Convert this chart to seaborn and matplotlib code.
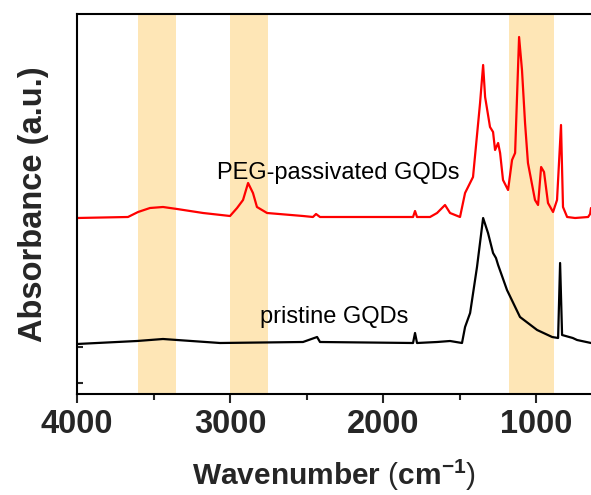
import matplotlib
matplotlib.use("Agg")
import matplotlib.pyplot as plt
import seaborn as sns
import pandas as pd

# ---- data ----
peg_wn = [4000, 3667, 3601, 3523, 3438, 3346, 3176, 3000, 2954, 2915, 2882, 2850,
          2824, 2758, 2523, 2458, 2438, 2412, 1804, 1791, 1778, 1693, 1647, 1595,
          1562, 1497, 1464, 1412, 1366, 1346, 1333, 1301, 1281, 1268, 1248, 1235,
          1216, 1183, 1157, 1137, 1111, 1092, 1072, 1053, 1007, 987, 967, 948, 922,
          889, 863, 837, 824, 797, 745, 660, 647, 641]
peg_abs = [176, 177, 182, 186, 187, 185, 181, 178, 186, 194, 211, 201,
           187, 181, 178, 177, 180, 177, 177, 183, 177, 177, 181, 189,
           181, 177, 201, 217, 291, 329, 297, 267, 262, 244, 251, 241,
           214, 204, 234, 241, 357, 324, 271, 231, 194, 189, 227, 222, 191,
           182, 194, 269, 187, 177, 176, 177, 180, 186]

pri_wn = [4000, 3608, 3438, 3346, 3065, 2523, 2431, 2412, 1804, 1791, 1778, 1647,
          1562, 1484, 1464, 1431, 1386, 1346, 1314, 1281, 1262, 1248, 1190, 1105, 993,
          895, 856, 843, 830, 760, 732, 641]
pri_abs = [50, 53, 55, 54, 51, 52, 57, 52, 51, 61, 51, 52,
           53, 51, 67, 81, 127, 176, 161, 141, 136, 129, 104, 77, 64,
           57, 56, 131, 59, 56, 54, 51]

bands = [(3600, 3350), (3000, 2750), (1180, 880)]
series_labels = ["PEG-passivated GQDs", "pristine GQDs"]
xtick_major = [4000, 3000, 2000, 1000]
xtick_minor = [3500, 2500, 1500]

df_peg = pd.DataFrame({"wn": peg_wn, "A": peg_abs})
df_pri = pd.DataFrame({"wn": pri_wn, "A": pri_abs})

sns.set_style("ticks")
plt.rcParams["font.family"] = ["Liberation Sans", "DejaVu Sans"]
plt.rcParams["mathtext.fontset"] = "custom"
plt.rcParams["mathtext.rm"] = "Liberation Sans"
plt.rcParams["mathtext.bf"] = "Liberation Sans:bold"
plt.rcParams["mathtext.default"] = "bf"

fig = plt.figure(figsize=(5.91, 4.95), dpi=100)
ax = fig.add_axes([77 / 591, 1 - 394 / 495, (591 - 77) / 591, (394 - 14) / 495])

for lo, hi in bands:
    ax.axvspan(hi, lo, color="#FEE6B6", lw=0, zorder=0)

sns.lineplot(data=df_peg, x="wn", y="A", color="#FF0000", lw=1.6, ax=ax, errorbar=None)
sns.lineplot(data=df_pri, x="wn", y="A", color="#000000", lw=1.6, ax=ax, errorbar=None)

ax.set_xlim(4000, 641)
ax.set_ylim(0, 380)

ax.text(2294, 221, series_labels[0], fontsize=17, ha="center", va="center", color="black")
ax.text(2317, 77, series_labels[1], fontsize=17, ha="center", va="center", color="black")

ax.set_xticks(xtick_major)
ax.set_xticks(xtick_minor, minor=True)
ax.set_xticklabels([str(v) for v in xtick_major], fontsize=23.5, fontweight="bold")
ax.tick_params(axis="x", which="major", direction="out", length=6.5, width=1.5, pad=4)
ax.tick_params(axis="x", which="minor", direction="out", length=4.5, width=1.5)
ax.set_yticks([11, 47])
ax.set_yticklabels([])
ax.tick_params(axis="y", which="major", direction="in", length=4, width=1.5)

for s in ["left", "bottom", "top"]:
    ax.spines[s].set_linewidth(1.5)
    ax.spines[s].set_color("black")
ax.spines["right"].set_visible(False)

ax.set_xlabel(r"Wavenumber $\mathrm{(}$cm$^{-1}$$\mathrm{)}$", fontsize=21.5,
              fontweight="bold", labelpad=13)
ax.set_ylabel("Absorbance (a.u.)", fontsize=23.5, fontweight="bold", labelpad=17)

fig.savefig("out.png", dpi=100)
